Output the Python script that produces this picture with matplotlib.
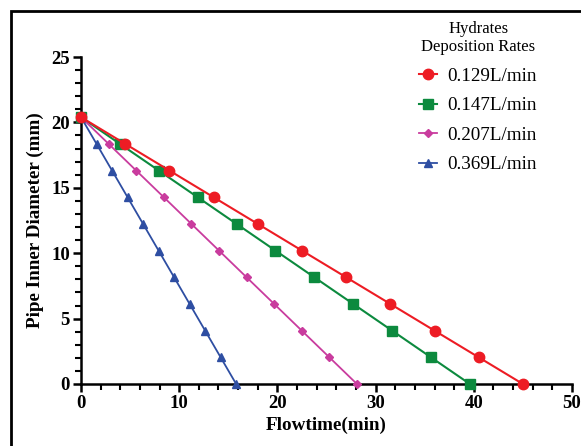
import matplotlib
matplotlib.use('Agg')
import matplotlib.pyplot as plt
from matplotlib.patches import Rectangle

plt.rcParams['font.family'] = ['Liberation Serif', 'DejaVu Serif']

# flowtime (min) for each deposition rate
t_129 = [0, 4.5, 9.0, 13.5, 18.0, 22.5, 27.0, 31.5, 36.0, 40.5, 45.0]
t_147 = [0, 3.96, 7.92, 11.88, 15.84, 19.8, 23.76, 27.72, 31.68, 35.64, 39.6]
t_207 = [0, 2.81, 5.62, 8.43, 11.24, 14.05, 16.86, 19.67, 22.48, 25.29, 28.1]
t_369 = [0, 1.58, 3.16, 4.74, 6.32, 7.9, 9.48, 11.06, 12.64, 14.22, 15.8]
# pipe inner diameter (mm)
diam = [20.4, 18.36, 16.32, 14.28, 12.24, 10.2, 8.16, 6.12, 4.08, 2.04, 0]
labels = ['0.129L/min', '0.147L/min', '0.207L/min', '0.369L/min']

fig = plt.figure(figsize=(5.81, 4.46), dpi=100)
ax = fig.add_axes([81/581, 1-384/446, (572-81)/581, (384-57)/446])

# outer frame
fig.patches.append(Rectangle((11/581, -0.1), 1.2, 1 - 11/446 + 0.1, transform=fig.transFigure,
                             fill=False, lw=2, ec='black'))

ax.plot(t_129, diam, '-o', color='#ED1C24', ms=7.5, lw=1.5, label=labels[0], clip_on=False, zorder=5)
ax.plot(t_147, diam, '-s', color='#0C8A3E', ms=7, lw=1.5, label=labels[1], clip_on=False, zorder=4)
ax.plot(t_207, diam, '-D', color='#C93C9E', ms=4.5, lw=1.3, label=labels[2], clip_on=False, zorder=4)
ax.plot(t_369, diam, '-^', color='#2E4EA2', ms=6, lw=1.3, label=labels[3], clip_on=False, zorder=4)

ax.set_xlim(0, 50)
ax.set_ylim(0, 25)
ax.set_xticks([0, 10, 20, 30, 40, 50])
ax.set_yticks([0, 5, 10, 15, 20, 25])
ax.set_xticks(range(0, 51, 2), minor=True)
ax.set_yticks(range(0, 26, 1), minor=True)
for s in ['top', 'right']:
    ax.spines[s].set_visible(False)
for s in ['left', 'bottom']:
    ax.spines[s].set_linewidth(1.8)
ax.tick_params(which='major', length=6, width=1.8, labelsize=13.5, pad=2)
ax.tick_params(which='minor', length=4, width=1.5)
for lab in ax.get_xticklabels() + ax.get_yticklabels():
    lab.set_fontweight('bold')

ax.set_xlabel('Flowtime(min)', fontsize=13.8, fontweight='bold', labelpad=3)
ax.set_ylabel('Pipe Inner Diameter (mm)', fontsize=13.8, fontweight='bold', labelpad=5)

leg = ax.legend(title='Hydrates\nDeposition Rates', loc='upper left',
                bbox_to_anchor=(419/581, 1 - 21/446), bbox_transform=fig.transFigure,
                frameon=False, fontsize=13.8, title_fontsize=12,
                handlelength=0.95, handletextpad=0.55, labelspacing=0.63,
                borderpad=0, borderaxespad=0)
leg.get_title().set_multialignment('center')

fig.savefig('out.png', dpi=100)
